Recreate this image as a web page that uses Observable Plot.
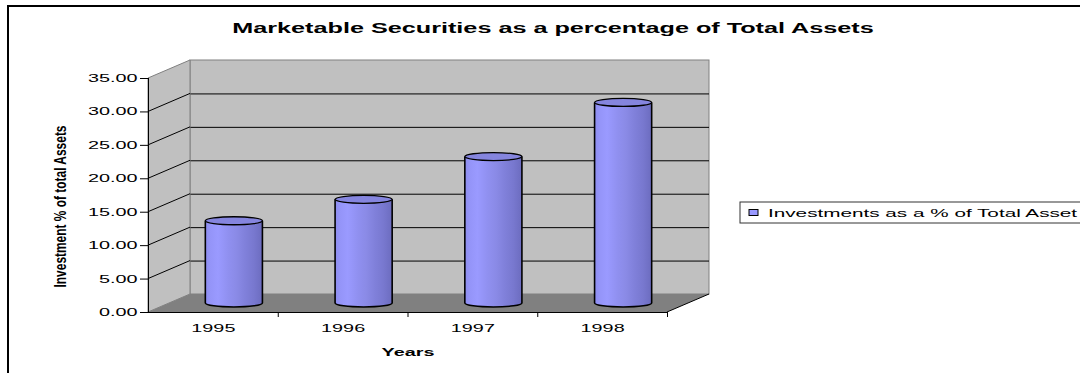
<!DOCTYPE html>
<html><head><meta charset="utf-8">
<script src="https://cdn.jsdelivr.net/npm/d3@7"></script>
<script src="https://cdn.jsdelivr.net/npm/@observablehq/plot@0.6"></script>
<style>
html,body{margin:0;padding:0;background:#fff;}
#chart{width:1080px;height:373px;overflow:hidden;position:relative;}
</style></head><body><div id="chart"></div>
<script>
// ---- data ----
const years = ["1995", "1996", "1997", "1998"];
const values = [12.3, 15.5, 21.9, 30.0];
const yTicks = [0, 5, 10, 15, 20, 25, 30, 35];
const title = "Marketable Securities as a percentage of Total Assets";
const yLabel = "Investment % of total Assets";
const xLabel = "Years";
const seriesName = "Investments as a % of Total Asset";

const data = years.map((year, i) => ({year, i, value: values[i]}));
const n = years.length;
const yMax = yTicks[yTicks.length - 1];
const DX = 42, DY = -18;   // 3D depth offset (pixels)
const HALF = 0.22;         // cylinder half width (category units)
const RY = 4;              // ellipse half height
const STRETCH = 1.8;       // horizontal text stretch
const font = "'Liberation Sans', Arial, Helvetica, sans-serif";

function walls(index, {x, y}) {
  const g = d3.create("svg:g");
  const x0 = x(0), x1 = x(n), y0 = y(0), yt = y(yMax);
  g.append("path")
    .attr("d", `M${x0},${y0}V${yt}L${x0 + DX},${yt + DY}V${y0 + DY}Z`)
    .attr("fill", "#c0c0c0").attr("stroke", "#808080");
  for (const t of yTicks.slice(1, -1)) {
    g.append("line").attr("x1", x0).attr("y1", y(t)).attr("x2", x0 + DX).attr("y2", y(t) + DY)
      .attr("stroke", "#000").attr("stroke-width", 1);
  }
  g.append("path")
    .attr("d", `M${x0},${y0}H${x1}L${x1 + DX},${y0 + DY}H${x0 + DX}Z`)
    .attr("fill", "#808080");
  g.append("line").attr("x1", x1).attr("y1", y0).attr("x2", x1 + DX).attr("y2", y0 + DY)
    .attr("stroke", "#000");
  return g.node();
}

function cylinderEnds(index, {x, y}) {
  const g = d3.create("svg:g");
  for (const d of data) {
    const xl = x(d.i + 0.5 - HALF) + DX / 2, xr = x(d.i + 0.5 + HALF) + DX / 2;
    const yb = y(0) + DY / 2, yt = y(d.value) + DY / 2;
    const rx = (xr - xl) / 2;
    g.append("path").attr("fill", "url(#cyl)")
      .attr("d", `M${xl},${yb}A${rx},${RY} 0 0 0 ${xr},${yb}Z`);
    g.append("path").attr("fill", "none").attr("stroke", "#000").attr("stroke-width", 1.6)
      .attr("d", `M${xl},${yt}V${yb}A${rx},${RY} 0 0 0 ${xr},${yb}V${yt}`);
    g.append("ellipse").attr("cx", (xl + xr) / 2).attr("cy", yt).attr("rx", rx).attr("ry", RY)
      .attr("fill", "#8585de").attr("stroke", "#000").attr("stroke-width", 1.3);
  }
  return g.node();
}

function frameAndLegend(index, {x, y}, values, dims) {
  const g = d3.create("svg:g");
  g.append("path").attr("d", `M8,${dims.height}V6H${dims.width}`)
    .attr("fill", "none").attr("stroke", "#000").attr("stroke-width", 2);
  const lx = x(n) + 73, ly = (y(0) + y(yMax)) / 2 + 18;
  g.append("rect").attr("x", lx).attr("y", ly - 11).attr("width", 400).attr("height", 21)
    .attr("fill", "#fff").attr("stroke", "#333");
  g.append("rect").attr("x", lx + 9).attr("y", ly - 3.5).attr("width", 9).attr("height", 6)
    .attr("fill", "#9999ff").attr("stroke", "#000");
  g.append("text").attr("x", lx + 28).attr("y", ly).attr("dy", "0.35em")
    .attr("text-anchor", "start")
    .attr("font-size", 11.5).attr("fill", "#000").text(seriesName);
  return g.node();
}

const svg = Plot.plot({
  width: 1080, height: 373,
  marginLeft: 148, marginRight: 413, marginTop: 78, marginBottom: 61,
  style: {fontFamily: font, fontSize: "11px", color: "#000", background: "#fff"},
  x: {domain: [0, n], axis: null},
  y: {domain: [0, yMax], axis: null},
  marks: [
    Plot.rect([yMax], {x1: 0, x2: n, y1: 0, y2: d => d, dx: DX, dy: DY, fill: "#c0c0c0", stroke: "#808080"}),
    Plot.ruleY(yTicks.slice(1, -1), {x1: 0, x2: n, dx: DX, dy: DY, stroke: "#000"}),
    walls,
    Plot.rect(data, {x1: d => d.i + 0.5 - HALF, x2: d => d.i + 0.5 + HALF, y1: 0, y2: "value",
      dx: DX / 2, dy: DY / 2, fill: "url(#cyl)"}),
    cylinderEnds,
    Plot.ruleX([0], {y1: 0, y2: yMax, stroke: "#000"}),
    Plot.ruleY([0], {x1: 0, x2: n, stroke: "#000"}),
    Plot.axisY({ticks: yTicks, tickFormat: d => d.toFixed(2), tickSize: 8, tickPadding: 3, label: null, stroke: "#000"}),
    Plot.axisX({ticks: d3.range(1, n + 1), tickFormat: () => "", tickSize: 5, label: null, stroke: "#000"}),
    Plot.text(data, {x: d => d.i + 0.5, y: () => 0, text: "year", dy: 16, lineAnchor: "middle", fill: "#000"}),
    Plot.text([xLabel], {frameAnchor: "bottom", dy: 40, lineAnchor: "middle", fontWeight: "bold", fill: "#000"}),
    Plot.text([yLabel], {frameAnchor: "left", rotate: -90, dx: -88, dy: 11, textAnchor: "middle", lineAnchor: "middle", fontWeight: "bold", fontSize: 12, fill: "#000"}),
    Plot.text([title], {frameAnchor: "top", dx: 145, dy: -50, lineAnchor: "middle", fontWeight: "bold", fontSize: 14, fill: "#000"}),
    frameAndLegend
  ]
});

const defs = d3.select(svg).insert("defs", ":first-child");
const lg = defs.append("linearGradient").attr("id", "cyl").attr("x1", 0).attr("x2", 1).attr("y1", 0).attr("y2", 0);
[[0, "#8c8cef"], [0.08, "#9494f8"], [0.22, "#9a9aff"], [0.4, "#9090f0"], [0.55, "#8a8ae6"],
 [0.7, "#8080da"], [0.85, "#7878cf"], [1, "#6c6cbf"]]
  .forEach(([o, c]) => lg.append("stop").attr("offset", o).attr("stop-color", c));

document.getElementById("chart").append(svg);

d3.select(svg).selectAll("text").each(function () {
  const txt = this.textContent;
  if (!txt) return;
  const w = this.getComputedTextLength();
  if (!w) return;
  if (txt === yLabel) {
    this.setAttribute("textLength", 162);
    this.setAttribute("lengthAdjust", "spacingAndGlyphs");
    const tr = this.getAttribute("transform") || "";
    this.setAttribute("transform", tr + " scale(1,1.4)");
  } else {
    this.setAttribute("textLength", w * STRETCH);
    this.setAttribute("lengthAdjust", "spacingAndGlyphs");
  }
});
</script></body></html>
